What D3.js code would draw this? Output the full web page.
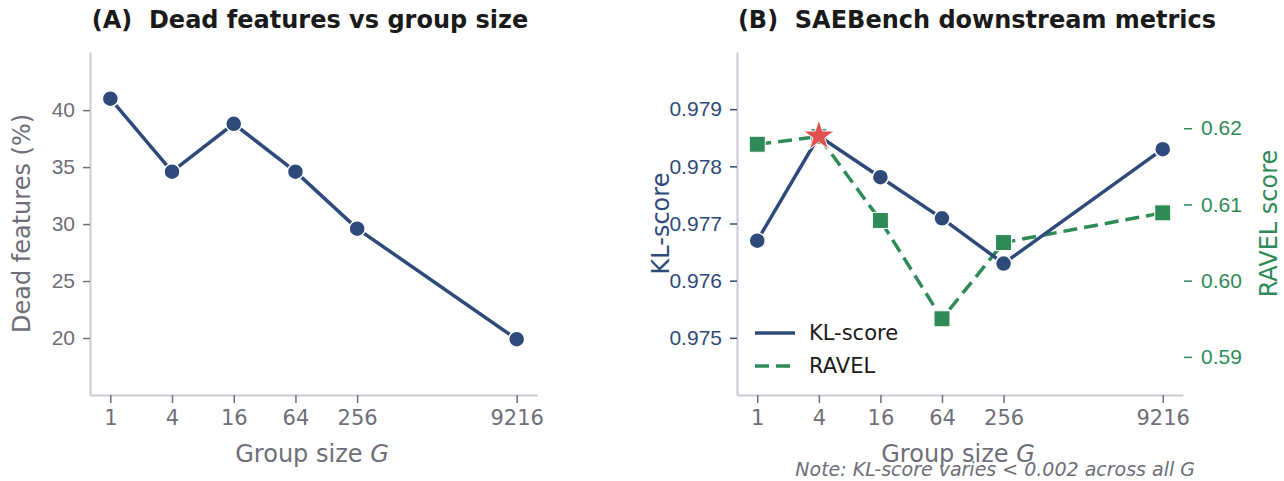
<!DOCTYPE html>
<html>
<head>
<meta charset="utf-8">
<script src="https://cdn.jsdelivr.net/npm/d3@7"></script>
<style>
  body { margin: 0; background: #fff; }
  svg { font-family: "DejaVu Sans", sans-serif; }
</style>
</head>
<body>
<div id="chart"></div>
<script>
// data
var groupSizes = [1, 4, 16, 64, 256, 9216];
var deadFeatures = [41.0, 34.6, 38.8, 34.6, 29.6, 19.9];
var klScore = [0.9767, 0.97853, 0.97781, 0.97709, 0.9763, 0.9783];
var ravelScore = [0.6179, 0.6189, 0.6079, 0.5950, 0.6050, 0.6089];
var deadTicks = [20, 25, 30, 35, 40];
var klTicks = [0.975, 0.976, 0.977, 0.978, 0.979];
var ravelTicks = [0.59, 0.60, 0.61, 0.62];
var bestIndex = 1; // G = 4

var navy = '#2e4a7a', green = '#2e8b57', grey = '#6e6e78', spine = '#c9cbd3', starRed = '#e05252';
var W = 1284, H = 481;
var plotTop = 52, plotBottom = 395;
var dash = '14,7';

var svg = d3.select('#chart').append('svg')
    .attr('width', W)
    .attr('height', H);

// log2 x scale with 5% padding like matplotlib
function xScale(x0, x1) {
    var lo = Math.log2(groupSizes[0]), hi = Math.log2(groupSizes[groupSizes.length - 1]);
    var pad = (hi - lo) * 0.05;
    return d3.scaleLog().base(2)
        .domain([Math.pow(2, lo - pad), Math.pow(2, hi + pad)])
        .range([x0, x1]);
}

function drawXAxis(g, x, y0) {
    var ax = d3.axisBottom(x).tickValues(groupSizes).tickFormat(d3.format('d'))
        .tickSize(8).tickPadding(7).tickSizeOuter(0);
    var a = g.append('g').attr('transform', 'translate(0,' + y0 + ')').call(ax);
    a.select('.domain').attr('stroke', spine).attr('stroke-width', 2);
    a.selectAll('.tick line').attr('stroke', grey).attr('stroke-width', 1.5);
    a.selectAll('.tick text').attr('fill', grey).style('font-size', '21px')
        .style('font-family', 'DejaVu Sans');
    return a;
}

function xLabel(g, cx) {
    var t = g.append('text').attr('x', cx).attr('y', 462)
        .attr('text-anchor', 'middle').attr('fill', grey).style('font-size', '24px');
    t.append('tspan').text('Group size ');
    t.append('tspan').style('font-style', 'italic').text('G');
}

function title(g, cx, txt) {
    g.append('text').attr('x', cx).attr('y', 28).attr('text-anchor', 'middle')
        .attr('fill', '#1a1a1a').style('font-size', '24px').style('font-weight', 'bold')
        .style('white-space', 'pre').text(txt);
}

// ---------- Panel A ----------
var xA = xScale(90, 537);
var yA = d3.scaleLinear().domain([15, 45.1]).range([plotBottom, plotTop]);
var gA = svg.append('g');

drawXAxis(gA, xA, plotBottom);
var ayA = gA.append('g').attr('transform', 'translate(90,0)')
    .call(d3.axisLeft(yA).tickValues(deadTicks).tickSize(7).tickPadding(8).tickSizeOuter(0));
ayA.select('.domain').attr('stroke', spine).attr('stroke-width', 2);
ayA.selectAll('.tick line').attr('stroke', grey).attr('stroke-width', 1.5);
ayA.selectAll('.tick text').attr('fill', grey).style('font-size', '21px');

gA.append('text').attr('transform', 'translate(30,' + ((plotTop + plotBottom) / 2) + ') rotate(-90)')
    .attr('text-anchor', 'middle').attr('fill', grey).style('font-size', '24px')
    .text('Dead features (%)');
xLabel(gA, 312);
title(gA, 310, '(A)  Dead features vs group size');

var lineA = d3.line().x(function(d, i) { return xA(groupSizes[i]); }).y(function(d) { return yA(d); });
gA.append('path').datum(deadFeatures).attr('d', lineA)
    .attr('fill', 'none').attr('stroke', navy).attr('stroke-width', 3.5);
gA.selectAll('circle.pt').data(deadFeatures).enter().append('circle')
    .attr('class', 'pt')
    .attr('cx', function(d, i) { return xA(groupSizes[i]); })
    .attr('cy', function(d) { return yA(d); })
    .attr('r', 8).attr('fill', navy).attr('stroke', '#fff').attr('stroke-width', 1.5);

// ---------- Panel B ----------
var xB = xScale(737, 1183);
var yB = d3.scaleLinear().domain([0.974, 0.980]).range([plotBottom, plotTop]);
var yR = d3.scaleLinear().domain([0.585, 0.630]).range([plotBottom, plotTop]);
var gB = svg.append('g');

drawXAxis(gB, xB, plotBottom);
var ayB = gB.append('g').attr('transform', 'translate(737,0)')
    .call(d3.axisLeft(yB).tickValues(klTicks).tickFormat(d3.format('.3f'))
        .tickSize(7).tickPadding(8).tickSizeOuter(0));
ayB.select('.domain').attr('stroke', spine).attr('stroke-width', 2);
ayB.selectAll('.tick line').attr('stroke', navy).attr('stroke-width', 1.5);
ayB.selectAll('.tick text').attr('fill', navy).style('font-size', '21px');

var ayR = gB.append('g').attr('transform', 'translate(1184,0)')
    .call(d3.axisRight(yR).tickValues(ravelTicks).tickFormat(d3.format('.2f'))
        .tickSize(8).tickPadding(9).tickSizeOuter(0));
ayR.select('.domain').remove();
ayR.selectAll('.tick line').attr('stroke', green).attr('stroke-width', 1.5);
ayR.selectAll('.tick text').attr('fill', green).style('font-size', '21px');

gB.append('text').attr('transform', 'translate(669,' + ((plotTop + plotBottom) / 2) + ') rotate(-90)')
    .attr('text-anchor', 'middle').attr('fill', navy).style('font-size', '24px')
    .text('KL-score');
gB.append('text').attr('transform', 'translate(1277,' + ((plotTop + plotBottom) / 2) + ') rotate(-90)')
    .attr('text-anchor', 'middle').attr('fill', green).style('font-size', '24px')
    .text('RAVEL score');
xLabel(gB, 958);
title(gB, 977, '(B)  SAEBench downstream metrics');

gB.append('text').attr('x', 1195).attr('y', 476).attr('text-anchor', 'end')
    .attr('fill', grey).style('font-size', '19px').style('font-style', 'italic')
    .text('Note: KL-score varies < 0.002 across all G');

// RAVEL (dashed, squares)
var lineR = d3.line().x(function(d, i) { return xB(groupSizes[i]); }).y(function(d) { return yR(d); });
gB.append('path').datum(ravelScore).attr('d', lineR)
    .attr('fill', 'none').attr('stroke', green).attr('stroke-width', 3.5)
    .attr('stroke-dasharray', dash);
gB.selectAll('rect.sq').data(ravelScore).enter().append('rect')
    .attr('class', 'sq')
    .attr('x', function(d, i) { return xB(groupSizes[i]) - 8; })
    .attr('y', function(d) { return yR(d) - 8; })
    .attr('width', 16).attr('height', 16)
    .attr('fill', green).attr('stroke', '#fff').attr('stroke-width', 1);

// KL (solid, circles)
var lineK = d3.line().x(function(d, i) { return xB(groupSizes[i]); }).y(function(d) { return yB(d); });
gB.append('path').datum(klScore).attr('d', lineK)
    .attr('fill', 'none').attr('stroke', navy).attr('stroke-width', 3.5);
gB.selectAll('circle.pt').data(klScore.filter(function(d, i) { return i !== bestIndex; })).enter()
    .append('circle').attr('class', 'pt')
    .attr('cx', function(d) { return xB(groupSizes[klScore.indexOf(d)]); })
    .attr('cy', function(d) { return yB(d); })
    .attr('r', 8).attr('fill', navy).attr('stroke', '#fff').attr('stroke-width', 1.5);

// best point star
gB.append('path')
    .attr('d', d3.symbol().type(d3.symbolStar).size(300)())
    .attr('transform', 'translate(' + xB(groupSizes[bestIndex]) + ',' + yB(klScore[bestIndex]) + ')')
    .attr('fill', starRed).attr('stroke', '#fff').attr('stroke-width', 1);

// legend
var leg = gB.append('g').attr('transform', 'translate(755,333)');
leg.append('line').attr('x1', 0).attr('x2', 40).attr('y1', 0).attr('y2', 0)
    .attr('stroke', navy).attr('stroke-width', 3.5);
leg.append('text').attr('x', 54).attr('y', 7).attr('fill', '#1a1a1a').style('font-size', '21px').text('KL-score');
leg.append('line').attr('x1', 0).attr('x2', 40).attr('y1', 33).attr('y2', 33)
    .attr('stroke', green).attr('stroke-width', 3.5).attr('stroke-dasharray', dash);
leg.append('text').attr('x', 54).attr('y', 40).attr('fill', '#1a1a1a').style('font-size', '21px').text('RAVEL');
</script>
</body>
</html>
